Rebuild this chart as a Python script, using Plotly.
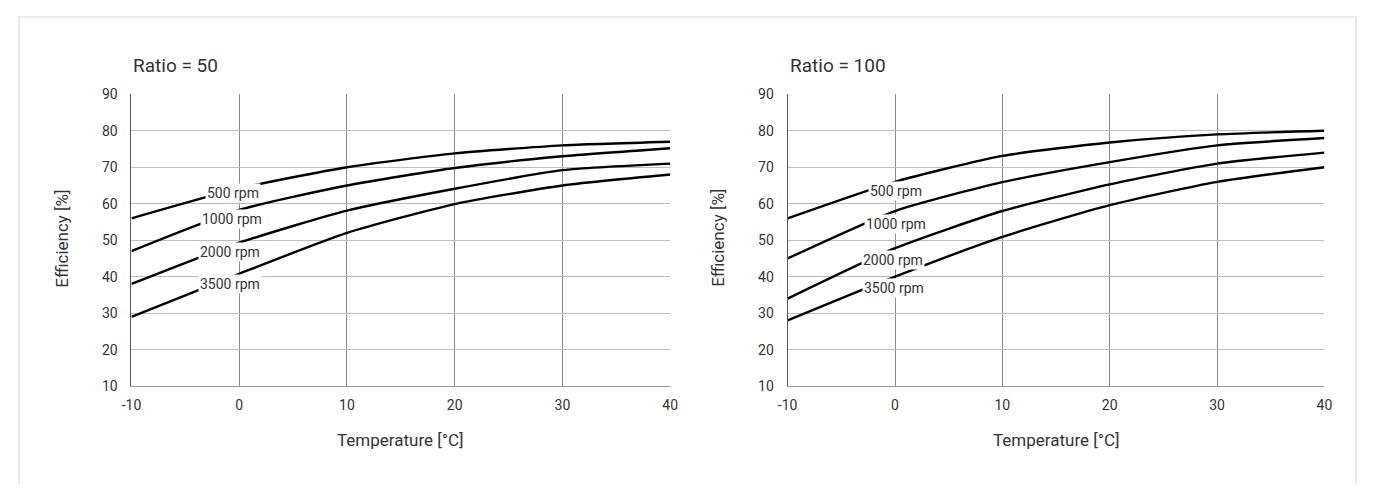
import plotly.graph_objects as go

# ---- data ----
temps = [-10, 0, 10, 20, 30, 40]
rpm_labels = ["500 rpm", "1000 rpm", "2000 rpm", "3500 rpm"]

ratio50 = {
    "500 rpm":  [56, 64.2, 70, 73.8, 76, 77],
    "1000 rpm": [47, 58.3, 65, 69.8, 73, 75.2],
    "2000 rpm": [38, 49.3, 58.1, 64.1, 69.2, 71],
    "3500 rpm": [29, 40.8, 52, 59.9, 65, 68],
}
ratio100 = {
    "500 rpm":  [56, 66, 73.1, 76.8, 79, 80],
    "1000 rpm": [45, 58, 65.9, 71.4, 76, 78],
    "2000 rpm": [34, 47.8, 58, 65.3, 71, 74],
    "3500 rpm": [28, 40, 50.9, 59.6, 66, 70],
}
# label anchor positions (temperature, efficiency)
labels50 = {"500 rpm": (-0.6, 63.0), "1000 rpm": (-0.7, 55.7),
            "2000 rpm": (-0.9, 46.9), "3500 rpm": (-0.9, 38.1)}
labels100 = {"500 rpm": (0.1, 63.4), "1000 rpm": (0.1, 54.4),
             "2000 rpm": (-0.2, 44.7), "3500 rpm": (-0.1, 36.9)}

titles = ["Ratio = 50", "Ratio = 100"]
x_ticks = [-10, 0, 10, 20, 30, 40]
x_ticktext = ["-10", "0", "10", "20", "30", "40"]
y_ticks = [10, 20, 30, 40, 50, 60, 70, 80, 90]

# page has the browser's default 8px body margin -> figure is 16px smaller
OFF = 8
W, H = 1373 - 2 * OFF, 492 - 2 * OFF
FONT = "Roboto"
TXT = "#333333"


def px(x):
    return (x - OFF) / W


def py(y):
    return 1 - (y - OFF) / H


fig = go.Figure()

panels = [
    (ratio50, labels50, "x", "y", (123, 669)),
    (ratio100, labels100, "x2", "y2", (788, 1332)),
]

for data, labs, xa, ya, _ in panels:
    for name in rpm_labels:
        fig.add_trace(go.Scatter(
            x=temps, y=data[name], mode="lines", name=name,
            line=dict(color="black", width=2.4, shape="spline", smoothing=0.6),
            xaxis=xa, yaxis=ya, showlegend=False, hoverinfo="skip"))
    for name in rpm_labels:
        tx, ty = labs[name]
        fig.add_annotation(x=tx, y=ty, xref=xa, yref=ya, text=name,
                           showarrow=False, bgcolor="white", borderpad=1,
                           font=dict(family=FONT, size=14, color=TXT))

y_dom = [py(391), py(89)]
axis_common = dict(showgrid=True, zeroline=False, ticks="",
                   tickfont=dict(family=FONT, size=14, color=TXT))

layout = dict(
    width=W, height=H,
    margin=dict(l=0, r=0, t=0, b=0),
    paper_bgcolor="white", plot_bgcolor="white",
    font=dict(family=FONT, color=TXT),
)
for i, (data, labs, xa, ya, (x0, x1)) in enumerate(panels):
    sfx = "" if i == 0 else "2"
    layout["xaxis" + sfx] = dict(
        axis_common, domain=[px(x0), px(x1)], range=[-10, 40],
        tickvals=x_ticks, ticktext=x_ticktext,
        gridcolor="#8c8c8c", gridwidth=1.3,
        showline=True, linecolor="#999999", linewidth=1,
        ticklabelstandoff=6,
        anchor="y" + sfx)
    layout["yaxis" + sfx] = dict(
        axis_common, domain=y_dom, range=[10, 90],
        tickvals=y_ticks, gridcolor="#bdbdbd", gridwidth=1,
        showline=True, linecolor="#555555", linewidth=1,
        ticklabelstandoff=10,
        anchor="x" + sfx)
fig.update_layout(**layout)

# titles and axis titles
for i, (data, labs, xa, ya, (x0, x1)) in enumerate(panels):
    fig.add_annotation(x=px(x0), y=py(59), xref="paper", yref="paper",
                       xanchor="left", yanchor="middle", text=titles[i],
                       showarrow=False, font=dict(family=FONT, size=19, color=TXT))
    fig.add_annotation(x=px((x0 + x1) / 2), y=py(447), xref="paper", yref="paper",
                       xanchor="center", yanchor="middle", text="Temperature [°C]",
                       showarrow=False, font=dict(family=FONT, size=17, color=TXT))
    fig.add_annotation(x=px(x0 - 70), y=py(238), xref="paper", yref="paper",
                       xanchor="center", yanchor="middle", text="Efficiency [%]",
                       textangle=-90, showarrow=False,
                       font=dict(family=FONT, size=17, color=TXT))

# light outer frame
fig.add_shape(type="rect", xref="paper", yref="paper",
              x0=1 / W, x1=(W - 1) / W, y0=-0.05, y1=1 - 1 / H,
              line=dict(color="#e2e2e2", width=1.5), fillcolor="rgba(0,0,0,0)",
              layer="below")

fig.write_html("out.html", config={"displayModeBar": False})
